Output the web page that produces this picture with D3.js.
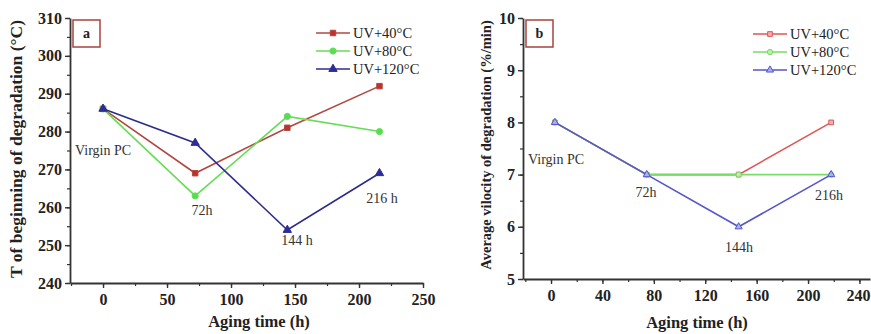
<!DOCTYPE html>
<html><head><meta charset="utf-8">
<script src="https://cdn.jsdelivr.net/npm/d3@7"></script>
<style>
body{margin:0;background:#fff;}
svg{display:block;font-family:"Liberation Serif","Times New Roman",serif;}
</style></head>
<body><svg id="c" width="871" height="334"></svg>
<script>
// ---- data ----
const seriesNames = ["UV+40°C", "UV+80°C", "UV+120°C"];
const timeA = [0, 72, 144, 216];
const tempUV40 = [286, 269, 281, 292];
const tempUV80 = [286, 263, 284, 280];
const tempUV120 = [286, 277, 254, 269];
const timeB = [3, 74.5, 146, 218];
const velUV40 = [8, 7, 7, 8];
const velUV80 = [8, 7, 7, 7];
const velUV120 = [8, 7, 6, 7];
const ticksXA = [0, 50, 100, 150, 200, 250];
const ticksYA = [240, 250, 260, 270, 280, 290, 300, 310];
const ticksXB = [0, 40, 80, 120, 160, 200, 240];
const ticksYB = [5, 6, 7, 8, 9, 10];
const annotA = ["Virgin PC", "72h", "144 h", "216 h"];
const annotB = ["Virgin PC", "72h", "144h", "216h"];

const svg = d3.select("#c");
const symbols = [d3.symbolSquare, d3.symbolCircle, d3.symbolTriangle];

function panel(cfg) {
  const g = svg.append("g");
  const x = d3.scaleLinear().domain(cfg.xDom).range(cfg.xRange);
  const y = d3.scaleLinear().domain(cfg.yDom).range(cfg.yRange);
  const x0 = cfg.xRange[0], y0 = cfg.yRange[0];

  // minor ticks
  const minorX = d3.range(cfg.xMinorStart, cfg.xDom[1] + 0.001, cfg.xMinorStep).filter(v => v >= cfg.xDom[0]);
  g.append("g").attr("transform", `translate(0,${y0})`)
    .call(d3.axisBottom(x).tickValues(minorX).tickSize(3).tickFormat(""))
    .call(s => s.select(".domain").remove())
    .selectAll("line").attr("stroke", "#333").attr("stroke-width", 1.2);
  const minorY = d3.range(cfg.yDom[0], cfg.yDom[1] + 0.001, cfg.yMinorStep);
  g.append("g").attr("transform", `translate(${x0},0)`)
    .call(d3.axisLeft(y).tickValues(minorY).tickSize(3).tickFormat(""))
    .call(s => s.select(".domain").remove())
    .selectAll("line").attr("stroke", "#333").attr("stroke-width", 1.2);

  // major axes
  const ax = g.append("g").attr("transform", `translate(0,${y0})`)
    .call(d3.axisBottom(x).tickValues(cfg.xTicks).tickFormat(d3.format("d")).tickSize(5).tickSizeOuter(0).tickPadding(6));
  const ay = g.append("g").attr("transform", `translate(${x0},0)`)
    .call(d3.axisLeft(y).tickValues(cfg.yTicks).tickFormat(d3.format("d")).tickSize(5).tickSizeOuter(0).tickPadding(3));
  [ax, ay].forEach(a => {
    a.select(".domain").attr("stroke", "#333").attr("stroke-width", 1.8);
    a.selectAll(".tick line").attr("stroke", "#333").attr("stroke-width", 1.4);
    a.selectAll("text").attr("font-family", "Liberation Serif").attr("font-weight", "bold")
      .attr("font-size", 16).attr("fill", "#222");
  });
  ax.selectAll("text").attr("dy", "0.71em");
  if (cfg.lastTickShift) {
    ax.selectAll(".tick").filter(d => d === cfg.xTicks[cfg.xTicks.length - 1])
      .select("text").attr("dx", cfg.lastTickShift);
  }

  // panel letter box
  g.append("rect").attr("x", cfg.box[0]).attr("y", cfg.box[1]).attr("width", 27).attr("height", 27)
    .attr("fill", "none").attr("stroke", "#a8433d").attr("stroke-width", 1.5);
  g.append("text").attr("x", cfg.box[0] + 13.5).attr("y", cfg.box[1] + 18).attr("text-anchor", "middle")
    .attr("font-weight", "bold").attr("font-size", 14).attr("fill", "#222").text(cfg.letter);

  // series
  const line = d3.line().x(d => x(d[0])).y(d => y(d[1]));
  cfg.series.forEach((vals, i) => {
    const pts = cfg.times.map((t, j) => [t, vals[j]]);
    g.append("path").datum(pts).attr("d", line).attr("fill", "none")
      .attr("stroke", cfg.colors[i]).attr("stroke-width", 1.6);
    g.selectAll(null).data(pts).join("path")
      .attr("transform", d => `translate(${x(d[0])},${y(d[1])})`)
      .attr("d", d3.symbol(symbols[i], cfg.symSize))
      .attr("fill", cfg.fills[i]).attr("stroke", cfg.colors[i]).attr("stroke-width", 1);
  });

  // legend
  seriesNames.forEach((n, i) => {
    const ly = cfg.legend[1] + i * 18;
    g.append("line").attr("x1", cfg.legend[0]).attr("x2", cfg.legend[0] + 34)
      .attr("y1", ly).attr("y2", ly).attr("stroke", cfg.colors[i]).attr("stroke-width", 1.6);
    g.append("path").attr("transform", `translate(${cfg.legend[0] + 17},${ly})`)
      .attr("d", d3.symbol(symbols[i], cfg.symSize))
      .attr("fill", cfg.fills[i]).attr("stroke", cfg.colors[i]).attr("stroke-width", 1);
    g.append("text").attr("x", cfg.legend[0] + 37).attr("y", ly + 5)
      .attr("font-size", 14.5).attr("fill", "#222").text(n);
  });

  // annotations
  cfg.annot.forEach((a, i) => {
    const p = cfg.annotPos[i];
    g.append("text").attr("x", p[0]).attr("y", p[1]).attr("text-anchor", p[2])
      .attr("font-size", 14).attr("fill", "#333").text(a);
  });

  // axis titles
  g.append("text").attr("x", cfg.xTitle[0]).attr("y", cfg.xTitle[1]).attr("text-anchor", "middle")
    .attr("font-weight", "bold").attr("font-size", 16.5).attr("fill", "#222").text("Aging time (h)");
  g.append("text").attr("transform", `translate(${cfg.yTitle[0]},${cfg.yTitle[1]}) rotate(-90)`)
    .attr("text-anchor", "middle").attr("font-weight", "bold").attr("font-size", cfg.yTitle[2])
    .attr("fill", "#222").text(cfg.yTitle[3]);
}

panel({
  xDom: [-25.8, 250], xRange: [70, 423], yDom: [240, 310], yRange: [283, 18],
  xTicks: ticksXA, yTicks: ticksYA, xMinorStart: -25, xMinorStep: 25, yMinorStep: 5,
  times: timeA, series: [tempUV40, tempUV80, tempUV120],
  colors: ["#b04840", "#66dd55", "#2c2c8c"], fills: ["#c0302a", "#55dd55", "#2c2c9c"], symSize: 30,
  box: [73, 20], letter: "a", legend: [316, 33],
  annot: annotA,
  annotPos: [[75, 155, "start"], [202, 215, "middle"], [297, 245, "middle"], [382, 203, "middle"]],
  xTitle: [259, 327], yTitle: [22, 149, 17.5, "T of beginning of degradation (°C)"]
});

panel({
  xDom: [-21.8, 248.2], xRange: [523, 870], yDom: [5, 10], yRange: [279, 18],
  xTicks: ticksXB, yTicks: ticksYB, xMinorStart: -20, xMinorStep: 20, yMinorStep: 0.5,
  times: timeB, series: [velUV40, velUV80, velUV120],
  colors: ["#e05555", "#77dd66", "#5555cc"], fills: ["#f0b0b0", "#bbeeaa", "#aab0ee"], symSize: 22,
  box: [526, 20], letter: "b", legend: [753, 34], lastTickShift: -1.5,
  annot: annotB,
  annotPos: [[528, 164, "start"], [646, 197, "middle"], [739, 252, "middle"], [829, 200, "middle"]],
  xTitle: [697, 328], yTitle: [491, 145, 14.5, "Average vilocity of degradation (%/min)"]
});
</script></body></html>
